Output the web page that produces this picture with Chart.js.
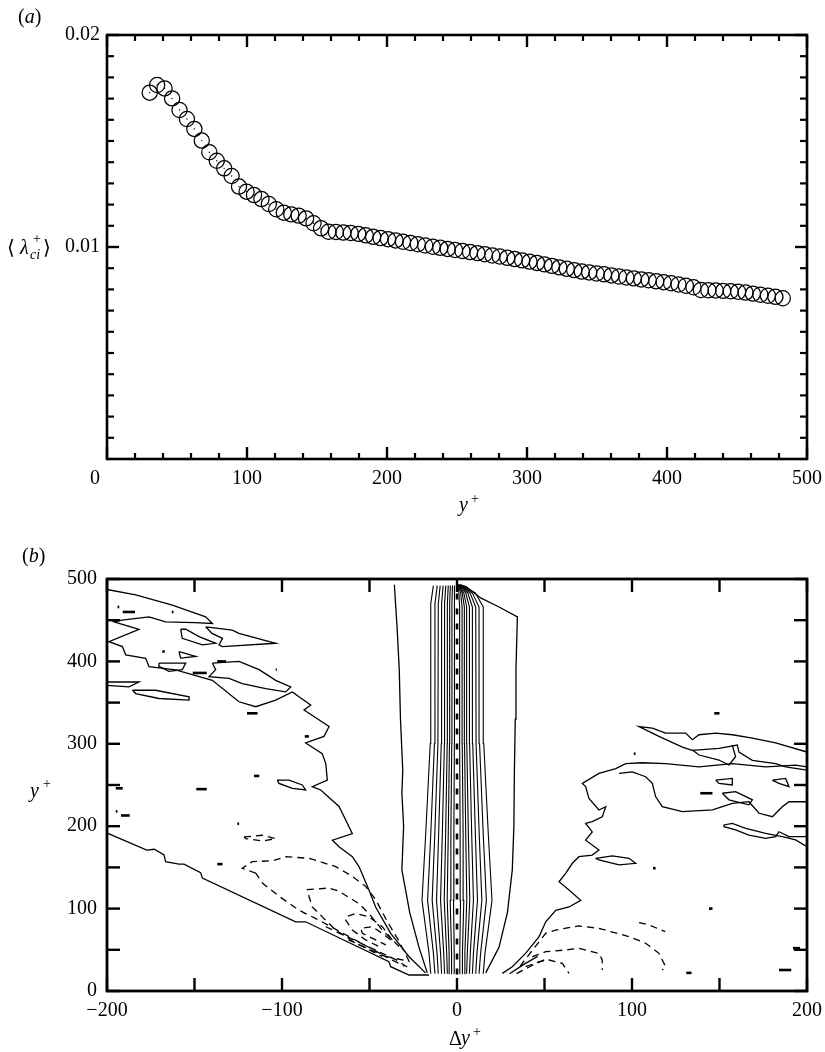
<!DOCTYPE html>
<html><head><meta charset="utf-8">
<script src="https://cdn.jsdelivr.net/npm/chart.js@4.4.1/dist/chart.umd.min.js"></script>
<style>
html,body{margin:0;padding:0;background:#fff;}
#wrap{position:relative;width:825px;height:1052px;background:#fff;}
#ca{position:absolute;left:0;top:0;}
#cb{position:absolute;left:0;top:520px;}
</style></head><body>
<div id="wrap">
<canvas id="ca" width="825" height="520"></canvas>
<canvas id="cb" width="825" height="532"></canvas>
</div>
<script>
// ---------------- Panel (a) data ----------------
const yPlus = [30.5,35.8,41.1,46.5,51.8,57.1,62.4,67.7,73.1,78.4,83.7,89.0,94.3,99.7,105.0,110.3,115.6,120.9,126.3,131.6,
136.9,142.2,147.5,152.9,158.2,163.5,168.8,174.1,179.5,184.8,190.1,195.4,200.7,206.1,211.4,216.7,222.0,227.3,232.7,238.0,
243.3,248.6,253.9,259.3,264.6,269.9,275.2,280.5,285.9,291.2,296.5,301.8,307.1,312.5,317.8,323.1,328.4,333.7,339.1,344.4,
349.7,355.0,360.3,365.7,371.0,376.3,381.6,386.9,392.3,397.6,402.9,408.2,413.5,418.9,424.2,429.5,434.8,440.1,445.5,450.8,
456.1,461.4,466.7,472.1,477.4,482.7];
const lambdaCi = [0.01728,0.01764,0.01748,0.01701,0.01646,0.01604,0.01557,0.01502,0.01447,0.01407,0.01371,0.01335,0.01285,0.01261,0.01245,0.01226,0.01203,0.01178,0.01162,0.01154,
0.01148,0.01135,0.01112,0.01088,0.01072,0.01071,0.01068,0.01066,0.01062,0.01055,0.01048,0.01042,0.01037,0.01031,0.01025,0.01019,0.01013,0.01007,0.01001,0.00996,
0.00991,0.00986,0.00981,0.00976,0.00971,0.00966,0.00960,0.00955,0.00949,0.00943,0.00937,0.00931,0.00925,0.00918,0.00911,0.00904,0.00897,0.00891,0.00884,0.00880,
0.00875,0.00871,0.00866,0.00861,0.00856,0.00852,0.00847,0.00843,0.00838,0.00834,0.00829,0.00823,0.00817,0.00810,0.00797,0.00796,0.00795,0.00793,0.00791,0.00789,
0.00785,0.00780,0.00775,0.00770,0.00765,0.00758];
const aXMajor = [0,100,200,300,400,500];
const aXMinor = [20,40,60,80,120,140,160,180,220,240,260,280,320,340,360,380,420,440,460,480];
const aYMajor = [0.01,0.02];
const aYMinor = [0.001,0.002,0.003,0.004,0.005,0.006,0.007,0.008,0.009,0.011,0.012,0.013,0.014,0.015,0.016,0.017,0.018,0.019];

// ---------------- Panel (b) data (contour polylines, [dy+, y+]) ----------------
const bXTicks = [-200,-150,-100,-50,0,50,100,150,200];
const bYTicks = [0,50,100,150,200,250,300,350,400,450,500];

const centreY = [21,46,110,190,300,470,492];
const centreLeft = [
[-15,-16,-20,-17.9,-15.3,-15,-13.5],
[-12.6,-13.5,-16.8,-15,-12.9,-12.6,-11.3],
[-10.7,-11.4,-14.2,-12.7,-10.9,-10.7,-9.6],
[-8.8,-9.4,-11.7,-10.5,-9,-8.8,-7.9],
[-7.1,-7.6,-9.4,-8.4,-7.2,-7.1,-6.4],
[-5.5,-5.9,-7.3,-6.5,-5.6,-5.5,-5],
[-4.2,-4.5,-5.6,-5,-4.3,-4.2,-3.8],
[-2.9,-3.1,-3.9,-3.5,-3,-2.9,-2.6],
[-1.5,-1.6,-2,-1.8,-1.5,-1.5,-1.4]];
const centreRightY = [21,46,110,190,300,466,483,493];
const centreRight = [
[1.5,1.6,2,1.8,1.5,1.5,1.1,0.5],
[2.9,3.1,3.9,3.5,3,2.9,2.1,0.7],
[4.2,4.5,5.6,5,4.3,4.2,3,0.9],
[5.5,5.9,7.3,6.5,5.6,5.5,3.9,1.1],
[7.1,7.6,9.4,8.4,7.2,7.1,5,1.3],
[8.8,9.4,11.7,10.5,9,8.8,6.2,1.5],
[10.7,11.4,14.2,12.7,10.9,10.7,7.5,1.7],
[12.6,13.5,16.8,15,12.9,12.6,8.8,1.9],
[15,16,20,17.9,15.3,15,10.5,2.2]];
const cCentre = [[0,20],[0,493]];
const cOuterLeft = [[-17,22],[-21.7,53],[-27,95],[-31.5,147],[-30.5,200],[-31.5,240],[-31,268],[-32.3,330],[-33,390],[-34.2,440],[-35.8,493]];
const cOuterRight = [[16.4,22],[24,53],[28.8,95],[31.6,147],[32.5,200],[32.8,268],[33.3,330],[33.7,390],[34.5,454],[24,466],[13.5,477],[5,491],[0.2,493]];

const cLeftDomainEdge = [[-200.2,192],[-177.3,171],[-173,172],[-167.4,165],[-166.5,157],[-158.9,154],[-156,154],[-146.5,143.6],[-145.5,137],[-92.2,84],[-86.5,84],[-38.9,35.6],[-37.9,29.5],[-27.4,19.4],[-16,19.4]];
const cLeftMain = [[-200.7,487.5],[-183.6,480.6],[-162.7,468.4],[-143.6,454],[-139.8,446],[-150,447],[-166.5,448],[-176,454],[-191.4,450],[-196,448],[-181.7,439],[-198.9,424],[-191.2,418],[-189.3,408],[-177.9,403.7],[-176,393.6],[-160.8,389.6],[-139.8,377],[-124.6,351],[-115,345],[-103.6,353],[-94.1,363],[-90.3,357],[-83.6,347],[-87.4,341],[-73.1,321],[-76,309],[-86.5,301],[-77,288],[-75,276],[-74.1,256],[-82.7,248],[-77.9,244],[-67.4,224],[-63.6,207.5],[-59.8,191],[-71.2,183],[-67.4,175],[-59.8,163],[-56,151],[-50.3,122.6],[-46.5,102],[-37.9,70],[-27.4,41.6],[-18,22]];
const cLoop1 = [[-157.9,439],[-155,439],[-147.4,430],[-137.9,422],[-145.5,420],[-157,428],[-157.9,439]];
const cLoop2 = [[-143.6,442],[-128.4,438],[-124.6,434],[-103.6,422],[-134,418],[-136,420],[-134,428],[-140,434],[-143.6,442]];
const cLoop3 = [[-158.9,412],[-149.3,406],[-157.9,404],[-158.9,412]];
const cLoop4 = [[-170.3,398],[-155,398],[-157,390],[-164.6,388],[-170.3,394],[-170.3,398]];
const cLoop5 = [[-139.8,398],[-124.6,400],[-113.1,390],[-103.6,377],[-95,369],[-97.9,363],[-109.3,367],[-122.7,373],[-130.3,379.5],[-141.7,381.5],[-137.9,390],[-139.8,398]];
const cLoop6 = [[-200,375],[-181.7,375],[-187.4,369],[-200,371]];
const cLoop7 = [[-185.5,365],[-172.2,365],[-153.1,357],[-153.1,353],[-170.3,355],[-183.6,361],[-185.5,365]];
const cLoop8 = [[-102.7,256],[-96,256],[-88.4,250],[-86.5,244],[-94.1,246],[-101.7,252],[-102.7,256]];

const dLeft1 = [[-121.7,187],[-111.2,189],[-103.6,185],[-111.2,182],[-120.8,185],[-121.7,187]];
const dLeft2 = [[-115,143],[-122.7,149],[-117,157],[-105.6,158],[-97.9,163],[-84.6,161],[-69.3,151],[-59.8,139],[-52.2,127],[-46.5,111],[-40,85],[-33,60],[-27.4,36],[-40.8,42],[-61.7,66],[-78.9,86],[-90.3,98],[-101.7,115],[-111.2,131],[-115,143]];
const dLeft3 = [[-33.1,54],[-42.7,74],[-50.3,94],[-56,106],[-67.4,121],[-73.1,125],[-85.5,123],[-84.6,115],[-82.7,102],[-77,90],[-69.3,74],[-57.9,58],[-42.7,42]];
const dLeft4 = [[-37,62],[-42.7,78],[-50.3,90],[-57.9,94],[-63.6,90],[-63.6,86],[-59.8,74],[-52.2,62],[-44.6,54]];
const dLeft5 = [[-37.9,62],[-42.7,70],[-48.4,78],[-55,76],[-54.1,70],[-46.5,62],[-40.7,56]];
const dLeft6 = [[-75,78],[-55,58],[-35,38],[-26,26]];
const dLeft7 = [[-62,62],[-45,46],[-30,30]];

const cRightMain = [[25.9,21.4],[31.6,29.5],[39.2,45.7],[46.9,66],[50.7,84],[56.4,98],[64,102],[70.7,110],[64,122.6],[58.3,132.6],[62.1,142.8],[65.9,155],[69.7,163],[77.3,165],[81.1,171],[73.5,183],[77.3,193],[73.5,203.5],[77.3,205.5],[83,211.5],[85,223.7],[81.1,219.7],[75.4,233.8],[73.5,248],[71.6,252],[81.1,264],[90.7,270],[96.4,276],[105.9,277],[119.2,276],[138.3,272],[157.3,276],[176.4,272],[193.5,274],[200,272]];
const cRightMid = [[92.6,264],[100.2,266],[107.8,260],[111.6,252],[113.5,236],[117.3,223.7],[128.8,217.6],[146,219.7],[157.3,227.8],[166.8,229.7],[172.6,215.7],[180.2,211.5],[185.9,223.7],[189.7,229.7],[200,229.7]];
const cRightWedge = [[200,290],[182.1,301],[168.8,307],[157.4,311],[147.8,313],[138.3,311],[134.5,305],[130.7,313],[119.2,313],[111.6,319],[104,321],[115.4,309],[128.8,296],[134.5,292],[149.7,294.5],[160.2,298.5],[161.1,290],[168.8,280],[182.1,276],[187.8,272],[200,268]];
const cRightNotch = [[157.3,298.5],[159.2,284.3],[155.4,274.3],[149.7,280.3],[138.3,286.4],[134.5,292.5]];
const cRightLow = [[200,175],[193.5,183.3],[185.9,187.3],[176.4,191.4],[165,197.5],[157.3,203.5],[152.6,201.5],[152.6,199.4],[159.2,195.4],[166.8,189.3],[176.4,185.3],[182.1,187.3],[184,193.3],[189.7,187.3],[200,187.3]];
const cRLoopA = [[147.8,256],[157.3,258],[157.3,250],[149.7,252],[147.8,256]];
const cRLoopB = [[180.2,256],[187.8,258],[189.7,248],[184,252],[180.2,256]];
const cRLoopC = [[151.6,240],[159.2,242],[168.8,232],[166.8,226],[155.4,232],[151.6,240]];
const cRLoopD = [[79.2,161],[88.8,164],[98.3,161],[102.1,155],[92.6,153],[81.1,159],[79.2,161]];
const cRightFan = [[30,21],[38,32],[46,42]];

const dRight1 = [[36,30],[44,52],[50.7,70],[56.4,74],[69.7,79],[81.1,76],[98.3,66],[107.8,58],[115.4,45.7],[117.3,37.6],[119.2,29.5],[117.3,25.5]];
const dRight2 = [[43,41.6],[50.7,47.7],[62.1,49.8],[69.7,51.8],[81.1,45.7],[83,37.6],[83,25.5]];
const dRight3 = [[39.2,29.5],[46.9,35.6],[52.6,37.6],[60.2,33.6],[64,21.4]];
const dRight4 = [[104,83],[110,80],[119,72]];
const dRight5 = [[34,21],[42,30],[50,38]];

const specks = [
[[-194,466],[-193,466]],[[-191,460],[-184,460]],[[-163,460],[-162,460]],[[-168.4,412],[-167,412]],
[[-151,386],[-143,386]],[[-137,400],[-132,400]],[[-103.6,390],[-103,390]],[[-120,337],[-114,337]],
[[-87,309],[-84.6,309]],[[-195,246],[-191,246]],[[-149,245],[-143,245]],[[-195,218],[-194,218]],
[[-192,213],[-187,213]],[[-125.5,203],[-124.5,203]],[[-116,261],[-113,261]],[[-137,154],[-134,154]],
[[101,288],[102,288]],[[147,337],[150,337]],[[112,149],[113.5,149]],[[144,100],[146,100]],
[[192,52],[196,52]],[[184,25.5],[191,25.5]],[[139,240],[146,240]],[[131,22],[134,22]]];

// ---------------- helpers ----------------
Chart.defaults.font.family = '"Liberation Serif", "Times New Roman", serif';
Chart.defaults.font.size = 20;
Chart.defaults.color = '#000';

function pts(arr){ return arr.map(p => ({x:p[0], y:p[1]})); }
function lineDS(arr, extra){
  return Object.assign({type:'scatter', data: pts(arr), showLine:true, pointRadius:0, pointHoverRadius:0,
    borderColor:'#000', borderWidth:1.3, fill:false, tension:0}, extra||{});
}

function framePlugin(cfg){
  return {id:'frame', afterDatasetsDraw(chart){
    const c = chart.ctx, a = chart.chartArea, x = chart.scales.x, y = chart.scales.y;
    c.save(); c.strokeStyle = '#000'; c.lineCap = 'butt';
    function seg(x1,y1,x2,y2){ c.beginPath(); c.moveTo(x1,y1); c.lineTo(x2,y2); c.stroke(); }
    cfg.x.forEach(t => { t.vals.forEach(v => {
      const px = x.getPixelForValue(v); c.lineWidth = t.w;
      seg(px, a.bottom, px, a.bottom - t.len); seg(px, a.top, px, a.top + t.len); }); });
    cfg.y.forEach(t => { t.vals.forEach(v => {
      const py = y.getPixelForValue(v); c.lineWidth = t.w;
      seg(a.left, py, a.left + t.len, py); seg(a.right, py, a.right - t.len, py); }); });
    c.lineWidth = cfg.frame;
    c.strokeRect(a.left, a.top, a.right - a.left, a.bottom - a.top);
    c.restore();
  }};
}
function drawText(c, s, font, x, y){ c.font = font; c.fillText(s, x, y); return x + c.measureText(s).width; }
const FR = '20px "Liberation Serif", "DejaVu Serif", serif';
const FI = 'italic 20px "Liberation Serif", "DejaVu Serif", serif';
const FS = '14px "Liberation Serif", "DejaVu Serif", serif';
const FSI = 'italic 14px "Liberation Serif", "DejaVu Serif", serif';

function fixAxis(size, isY){
  return function(s){ if(isY){ s.width = size; } else { s.height = size; } s.paddingLeft = 0; s.paddingRight = 0; s.paddingTop = 0; s.paddingBottom = 0; };
}

// ---------------- Chart (a) ----------------
const textA = {id:'textA', afterDraw(chart){
  const c = chart.ctx; c.save(); c.fillStyle = '#000'; c.textAlign = 'left'; c.textBaseline = 'alphabetic';
  let xx = drawText(c, '(', FR, 18, 23); xx = drawText(c, 'a', FI, xx, 23); drawText(c, ')', FR, xx, 23);
  drawText(c, '\u27E8', FR, 7, 254);
  drawText(c, '\u03BB', FI, 20, 254);
  drawText(c, '+', FS, 33, 243);
  drawText(c, 'ci', FSI, 30, 259);
  drawText(c, '\u27E9', FR, 43, 254);
  drawText(c, 'y', FI, 459, 511);
  drawText(c, '+', FS, 471, 503);
  c.restore();
}};

new Chart(document.getElementById('ca'), {
  type:'scatter',
  data:{datasets:[
    {data: yPlus.map((v,i)=>({x:v, y:lambdaCi[i]})), pointStyle:'circle', pointRadius:7.6, pointHoverRadius:7.6,
     borderColor:'#000', borderWidth:1.25, backgroundColor:'rgba(0,0,0,0)', showLine:false},
    {data: yPlus.map((v,i)=>({x:v, y:lambdaCi[i]})), pointStyle:'circle', pointRadius:0.7, pointHoverRadius:0.7,
     borderWidth:0, backgroundColor:'#000', showLine:false}
  ]},
  options:{
    responsive:false, animation:false, devicePixelRatio:1,
    layout:{padding:{left:0, top:35, right:18, bottom:0}},
    plugins:{legend:{display:false}, tooltip:{enabled:false}},
    scales:{
      x:{type:'linear', min:0, max:500, afterFit: fixAxis(61,false),
         grid:{display:false, drawTicks:false}, border:{display:false},
         ticks:{stepSize:100, autoSkip:false, maxRotation:0, padding:8,
           callback:(v)=> v===0 ? '0\u2003\u2009' : String(v)}},
      y:{type:'linear', min:0, max:0.02, afterFit: fixAxis(107,true),
         grid:{display:false, drawTicks:false}, border:{display:false},
         ticks:{stepSize:0.01, autoSkip:false, padding:7,
           callback:(v)=> Math.abs(v) < 1e-9 ? '' : v.toFixed(2)}}
    }
  },
  plugins:[framePlugin({frame:2.6,
    x:[{vals:aXMajor, len:12, w:2.4},{vals:aXMinor, len:6, w:2.2}],
    y:[{vals:aYMajor, len:12, w:2.4},{vals:aYMinor, len:7, w:2.2}]}), textA]
});

// ---------------- Chart (b) ----------------
const dashed = {borderDash:[7,5]};
const dsB = [];
centreLeft.forEach(row => dsB.push(lineDS(row.map((v,i)=>[v, centreY[i]]), {borderWidth:1.1})));
centreRight.forEach(row => dsB.push(lineDS(row.map((v,i)=>[v, centreRightY[i]]), {borderWidth:1.1})));
dsB.push(lineDS(cCentre, {borderWidth:2.6, borderDash:[6,9]}));
[cOuterLeft, cOuterRight, cLeftDomainEdge, cLeftMain, cLoop1, cLoop2, cLoop3, cLoop4, cLoop5, cLoop6, cLoop7, cLoop8,
 cRightMain, cRightMid, cRightWedge, cRightNotch, cRightLow, cRLoopA, cRLoopB, cRLoopC, cRLoopD, cRightFan]
  .forEach(a => dsB.push(lineDS(a)));
[dLeft1, dLeft2, dLeft3, dLeft4, dLeft5, dLeft6, dLeft7, dRight1, dRight2, dRight3, dRight4, dRight5]
  .forEach(a => dsB.push(lineDS(a, dashed)));
specks.forEach(a => dsB.push(lineDS(a, {borderWidth:2.6})));

const textB = {id:'textB', afterDraw(chart){
  const c = chart.ctx; c.save(); c.fillStyle = '#000'; c.textAlign = 'left'; c.textBaseline = 'alphabetic';
  let xx = drawText(c, '(', FR, 22, 42); xx = drawText(c, 'b', FI, xx, 42); drawText(c, ')', FR, xx, 42);
  drawText(c, 'y', FI, 30, 277);
  drawText(c, '+', FS, 43, 268);
  drawText(c, '\u0394', FR, 449, 525);
  drawText(c, 'y', FI, 461, 524);
  drawText(c, '+', FS, 473, 516);
  c.restore();
}};

new Chart(document.getElementById('cb'), {
  type:'scatter',
  data:{datasets: dsB},
  options:{
    responsive:false, animation:false, devicePixelRatio:1,
    layout:{padding:{left:0, top:59, right:18, bottom:0}},
    plugins:{legend:{display:false}, tooltip:{enabled:false}},
    scales:{
      x:{type:'linear', min:-200, max:200, afterFit: fixAxis(61,false),
         grid:{display:false, drawTicks:false}, border:{display:false},
         ticks:{stepSize:100, autoSkip:false, maxRotation:0, padding:8,
           callback:(v)=> v < 0 ? '\u2212' + (-v) : String(v)}},
      y:{type:'linear', min:0, max:500, afterFit: fixAxis(107,true),
         grid:{display:false, drawTicks:false}, border:{display:false},
         ticks:{stepSize:100, autoSkip:false, padding:10}}
    }
  },
  plugins:[framePlugin({frame:2.8,
    x:[{vals:bXTicks, len:13, w:2.4}],
    y:[{vals:bYTicks, len:13, w:2.4}]}), textB]
});
</script>
</body></html>
